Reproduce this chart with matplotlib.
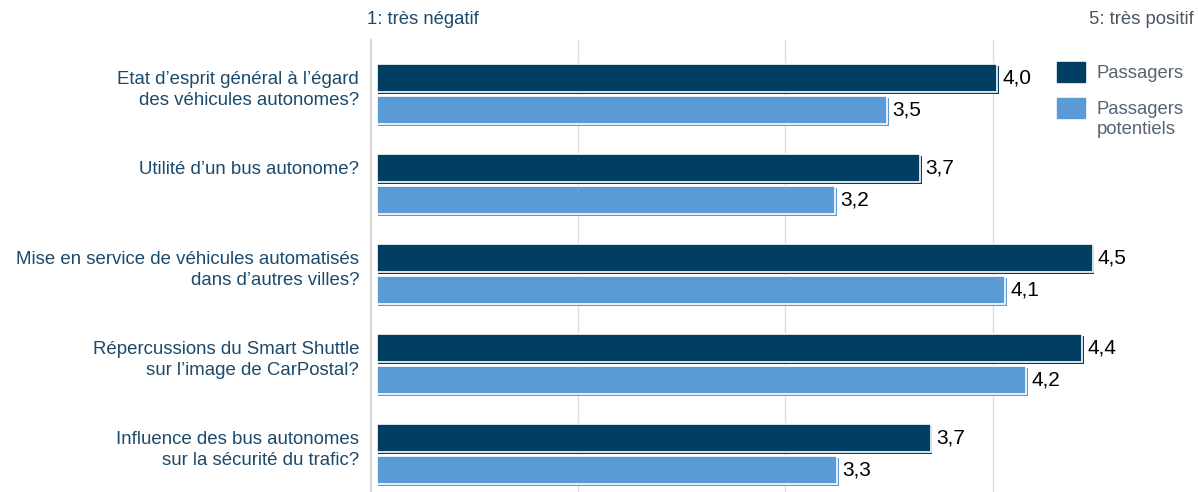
import numpy as np
import matplotlib.pyplot as plt

plt.rcParams['font.family'] = ['Liberation Sans', 'DejaVu Sans']

categories = ["Etat d’esprit général à l’égard\ndes véhicules autonomes?",
              "Utilité d’un bus autonome?",
              "Mise en service de véhicules automatisés\ndans d’autres villes?",
              "Répercussions du Smart Shuttle\nsur l’image de CarPostal?",
              "Influence des bus autonomes\nsur la sécurité du trafic?"]
passagers = [4.02, 3.65, 4.48, 4.43, 3.70]
potentiels = [3.49, 3.24, 4.06, 4.16, 3.25]
passagers_lbl = ["4,0", "3,7", "4,5", "4,4", "3,7"]
potentiels_lbl = ["3,5", "3,2", "4,1", "4,2", "3,3"]
series_names = ["Passagers", "Passagers\npotentiels"]

dark = '#003f62'
light = '#5b9bd5'
label_col = '#1b4a6c'
legend_col = '#566473'

W, H = 1198, 492
fig = plt.figure(figsize=(W / 100, H / 100), dpi=100)
ax = fig.add_axes([370.5 / W, 0, 830 / W, 452 / H])
ax.set_xlim(1, 5)
ax.set_ylim(4.42, -0.6)

y = np.arange(len(categories))
h = 0.31
x0 = 1.03
for vals, lbls, off, col in [(passagers, passagers_lbl, -0.175, dark),
                             (potentiels, potentiels_lbl, 0.175, light)]:
    vals = np.array(vals)
    # shadow
    ax.barh(y + off + 0.022, vals - x0, left=x0 + 0.008, height=h, color=col, zorder=2)
    ax.barh(y + off, vals - x0, left=x0, height=h, color=col, edgecolor='white',
            linewidth=1.2, zorder=3)
    for yi, v, t in zip(y, vals, lbls):
        ax.text(v + 0.025, yi + off, t, va='center', ha='left',
                fontsize=15, color='black')

for g in [2, 3, 4]:
    ax.axvline(g, color='#dddddd', lw=1, zorder=0)
for s in ['top', 'right', 'bottom']:
    ax.spines[s].set_visible(False)
ax.spines['left'].set_color('#d9d9d9')
ax.spines['left'].set_linewidth(1.5)
ax.set_xticks([])
ax.set_yticks([])

# category labels: first line level with the dark bar, next lines below
for yi, cat in zip(y, categories):
    for k, line in enumerate(cat.split('\n')):
        ax.text(0.945, yi - 0.185 + 0.233 * k, line, ha='right', va='center_baseline',
                fontsize=13.4, color=label_col, clip_on=False)

fig.text(367 / W, 1 - 20 / H, "1: très négatif", fontsize=13.3, color=label_col, va='center', ha='left')
fig.text(1194 / W, 1 - 20 / H, "5: très positif", fontsize=13.3, color='#4a5563', va='center', ha='right')

# legend
for i, (name, col) in enumerate(zip(series_names, [dark, light])):
    top = 62 + 36 * i
    fig.patches.append(plt.Rectangle((1057 / W, 1 - (top + 20) / H), 28 / W, 20 / H,
                                     transform=fig.transFigure, color=col, figure=fig))
    for k, line in enumerate(name.split('\n')):
        fig.text(1097 / W, 1 - (top + 12 + 20 * k) / H, line, fontsize=13.3, color=legend_col,
                 va='center', ha='left')

fig.savefig('out.png', dpi=100)
